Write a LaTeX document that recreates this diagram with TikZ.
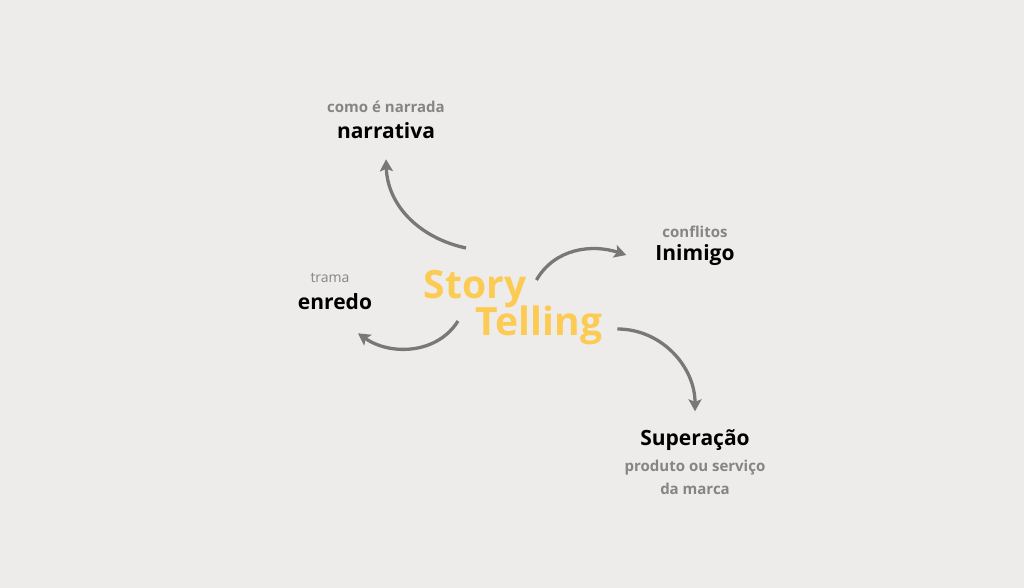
\documentclass[tikz,border=0pt]{standalone}
\usepackage{fontspec}
\setmainfont{Open Sans}
\usetikzlibrary{arrows.meta,positioning}
\definecolor{paper}{HTML}{EDECEA}
\definecolor{hintgray}{HTML}{858585}
\definecolor{linkgray}{HTML}{787878}
\definecolor{storyyellow}{HTML}{FCCB53}

\begin{document}
\begin{tikzpicture}[x=1pt,y=-1pt,
				title/.style={inner sep=0pt, text=black, font=\bfseries\fontsize{21}{25}\selectfont},
				hint/.style={inner sep=0pt, text=hintgray, font=\bfseries\fontsize{15}{18}\selectfont},
				story/.style={inner sep=0pt, text=storyyellow, font=\bfseries\fontsize{39}{44}\selectfont},
				link/.style={draw=linkgray, line width=3.3pt, -{Stealth[length=12pt,width=13pt,inset=2.5pt]}}
			]
			\fill[paper] (0,0) rectangle (1024,588);
			\useasboundingbox (0,0) rectangle (1024,588);
			
			% center words
			\node[story] (t_story) at (475,289) {Story};
			\node[story] (t_telling) at (539,325) {Telling};
			
			% labels
			\node[hint] (h_narrativa) at (386,107) {como é narrada};
			\node[title] (l_narrativa) at (386,131) {narrativa};
			\node[hint, font=\fontsize{14}{17}\selectfont] (h_enredo) at (330,278) {trama};
			\node[title] (l_enredo) at (335,302) {enredo};
			\node[hint] (h_inimigo) at (695,232) {conflitos};
			\node[title] (l_inimigo) at (695,255) {Inimigo};
			\node[title] (l_superacao) at (695,440) {Superação};
			\node[hint] (h_superacao) at (695,468) {produto ou serviço};
			\node[hint] (h_marca) at (695,489) {da marca};
			
			% arrows
			\draw[link] ([shift={(-9pt,22pt)}]t_story.north) to[out=168,in=-88] ([yshift=-20pt]l_narrativa.south);
			\draw[link] ([shift={(-17pt,-13pt)}]t_story.south) to[out=238,in=-35] ([shift={(23pt,-23pt)}]l_enredo.south);
			\draw[link] ([shift={(10pt,9pt)}]t_story.east) to[out=60,in=162] ([xshift=-29pt]l_inimigo.west);
			\draw[link] ([shift={(15pt,-4pt)}]t_telling.east) to[out=0,in=90] ([yshift=18pt]l_superacao.north);
		\end{tikzpicture}
\end{document}
